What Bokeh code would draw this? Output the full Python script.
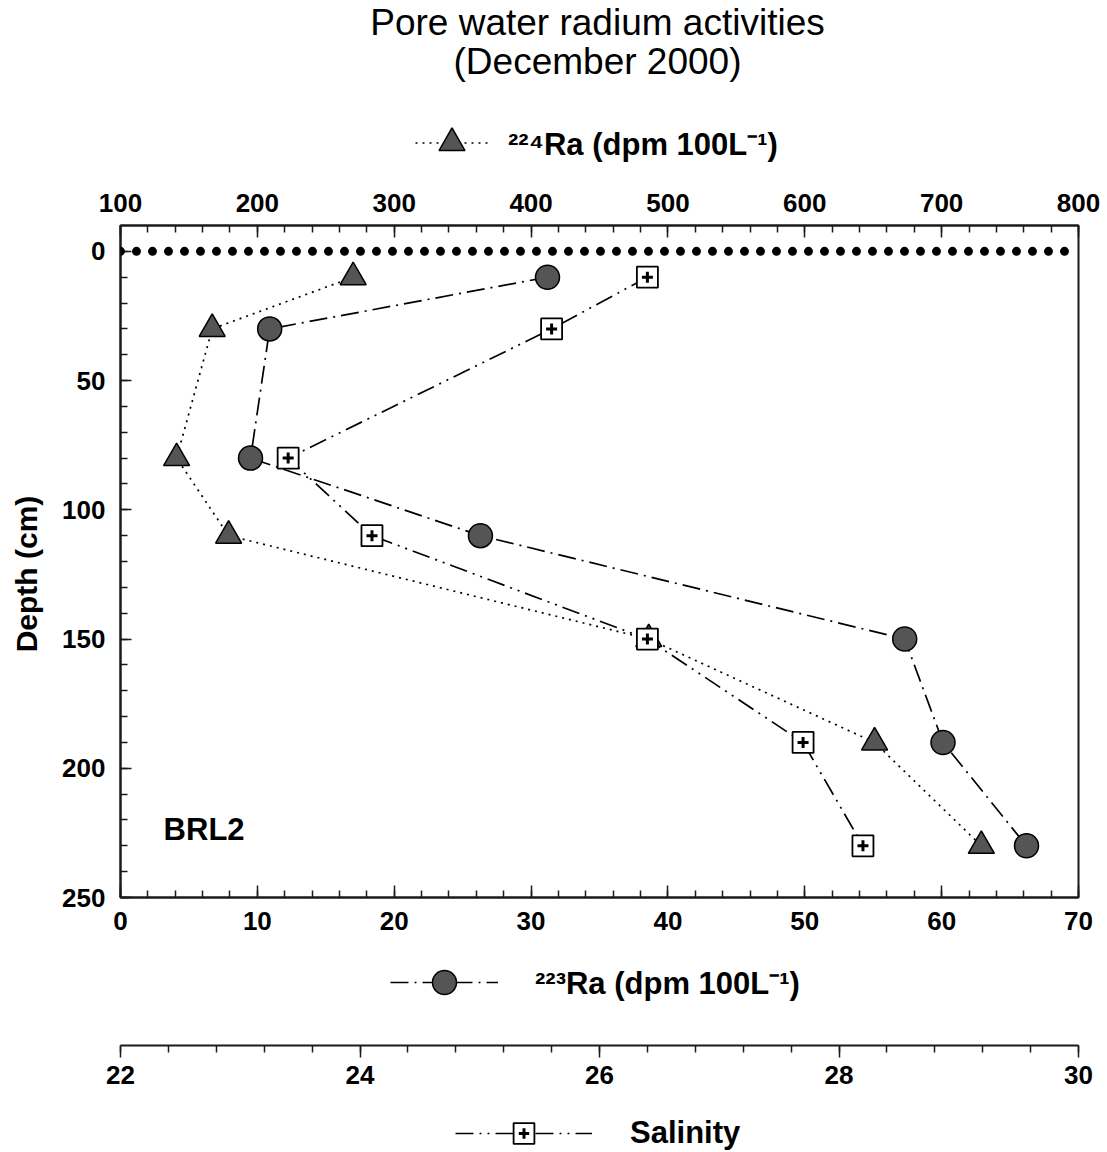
from bokeh.plotting import figure
from bokeh.layouts import column
from bokeh.models import (Range1d, LinearAxis, FixedTicker, Legend, LegendItem,
                          Span, Label, ColumnDataSource)
from bokeh.embed import file_html
from bokeh.resources import INLINE
import numpy as np

# Pore water profile, station BRL2, December 2000
depth_cm = [10, 30, 80, 110, 150, 190, 230]
ra224_dpm = [270, 167, 141, 179, 486, 651, 729]
ra223_dpm = [31.2, 10.9, 9.5, 26.3, 57.3, 60.1, 66.2]
salinity = [26.4, 25.6, 23.4, 24.1, 26.4, 27.7, 28.2]

depth_ticks = [0, 50, 100, 150, 200, 250]
ra223_ticks = [0, 10, 20, 30, 40, 50, 60, 70]
ra224_ticks = [100, 200, 300, 400, 500, 600, 700, 800]
sal_ticks = [22, 24, 26, 28, 30]

title_lines = ["Pore water radium activities", "(December 2000)"]
ra224_label = "\u00b2\u00b2\u2074Ra (dpm 100L\u207b\u00b9)"
ra223_label = "\u00b2\u00b2\u00b3Ra (dpm 100L\u207b\u00b9)"
sal_label = "Salinity"
depth_label = "Depth (cm)"
station = "BRL2"

FONT = "Liberation Sans"
INK = "#1a1a1a"
MARK = "#555555"
W = 1107
LEFT, RIGHT = 120, 29

src = ColumnDataSource(dict(depth=depth_cm, ra224=ra224_dpm, ra223=ra223_dpm, sal=salinity))

# series styles shared by the plot and the legend keys
STY224 = dict(line=dict(line_color="black", line_width=1.7, line_dash="2 5"),
              mark=dict(marker="triangle", size=26, fill_color=MARK, line_color="black", line_width=1.5))
STY223 = dict(line=dict(line_color="black", line_width=1.7, line_dash="18 6 2 6"),
              mark=dict(marker="circle", size=24, fill_color=MARK, line_color="black", line_width=1.5))
STYSAL = dict(line=dict(line_color="black", line_width=1.7, line_dash="18 6 2 6 2 6"),
              mark=dict(marker="square", size=21, fill_color="white", line_color="black", line_width=1.8),
              plus=dict(marker="cross", size=11, line_color="black", line_width=3))


def bare_fig(height, top=0, bottom=0, **kw):
    f = figure(width=W, height=height, output_backend="svg", toolbar_location=None,
               x_axis_type=None, y_axis_type=None, title_location=None,
               min_border_left=LEFT, min_border_right=RIGHT,
               min_border_top=top, min_border_bottom=bottom, **kw)
    f.outline_line_color = None
    f.background_fill_color = "white"
    f.border_fill_color = "white"
    return f


def style_axis(ax, tin, tout, standoff):
    ax.axis_line_color = INK
    ax.axis_line_width = 2
    ax.major_tick_line_color = INK
    ax.minor_tick_line_color = INK
    ax.major_tick_line_width = 1.5
    ax.minor_tick_line_width = 1.5
    ax.major_tick_in, ax.minor_tick_in = tin
    ax.major_tick_out, ax.minor_tick_out = tout
    ax.major_label_text_font = FONT
    ax.major_label_text_font_style = "bold"
    ax.major_label_text_font_size = "26px"
    ax.major_label_text_color = "black"
    ax.major_label_standoff = standoff


def key_legend(label, renderers, gw, gh, standoff, loc):
    return Legend(items=[LegendItem(label=label, renderers=renderers)],
                  location=loc, orientation="horizontal",
                  glyph_width=gw, glyph_height=gh, label_standoff=standoff,
                  padding=0, margin=0, spacing=0,
                  border_line_color=None, background_fill_alpha=0,
                  label_text_font=FONT, label_text_font_style="bold",
                  label_text_font_size="31px", label_text_color="black")


# ---------------- header: title and 224Ra key ----------------
top = bare_fig(180, x_range=Range1d(0, 958), y_range=Range1d(180, 0))
top.extra_x_ranges = {"ra224": Range1d(100, 800)}
top.extra_y_ranges = {"off": Range1d(1000, 2000)}
top.add_layout(Label(x=477, y=22, text=title_lines[0], text_font=FONT, text_font_size="37px",
                     text_align="center", text_baseline="middle", text_color="black"))
top.add_layout(Label(x=477, y=61, text=title_lines[1], text_font=FONT, text_font_size="37px",
                     text_align="center", text_baseline="middle", text_color="black"))
k224l = top.line("ra224", "depth", source=src, x_range_name="ra224", y_range_name="off", **STY224["line"])
k224m = top.scatter("ra224", "depth", source=src, x_range_name="ra224", y_range_name="off", **STY224["mark"])
top.add_layout(key_legend(ra224_label, [k224l, k224m], 73, 65, 20, (295, 5)))

# ---------------- main profile panel ----------------
p = bare_fig(765, top=45, bottom=48, x_range=Range1d(0, 70), y_range=Range1d(250, -10))
p.extra_x_ranges = {"ra224": Range1d(100, 800), "sal": Range1d(22, 30)}
p.outline_line_color = INK
p.outline_line_width = 2

ax_top = LinearAxis(x_range_name="ra224",
                    ticker=FixedTicker(ticks=ra224_ticks, minor_ticks=list(range(100, 801, 20))))
style_axis(ax_top, (12, 7), (0, 0), 14)
p.add_layout(ax_top, "above")

ax_bot = LinearAxis(ticker=FixedTicker(ticks=ra223_ticks, minor_ticks=list(range(0, 71, 2))))
style_axis(ax_bot, (12, 7), (0, 0), 14)
p.add_layout(ax_bot, "below")

# the label sits a little below the frame's middle: padded at its upper end
ax_left = LinearAxis(ticker=FixedTicker(ticks=depth_ticks, minor_ticks=list(range(0, 251, 10))),
                     axis_label=depth_label + "\u00a0\u00a0\u00a0")
style_axis(ax_left, (11, 7), (0, 0), 15)
ax_left.axis_label_text_font = FONT
ax_left.axis_label_text_font_style = "bold"
ax_left.axis_label_text_font_size = "30px"
ax_left.axis_label_text_color = "black"
ax_left.axis_label_standoff = 16
p.add_layout(ax_left, "left")

# sediment-water interface
p.add_layout(Span(location=0, dimension="width", line_color="black", line_width=9,
                  line_dash="0 16", line_cap="round"))

p.line("ra224", "depth", source=src, x_range_name="ra224", **STY224["line"])
p.line("ra223", "depth", source=src, **STY223["line"])
p.line("sal", "depth", source=src, x_range_name="sal", **STYSAL["line"])
p.scatter("ra224", "depth", source=src, x_range_name="ra224", **STY224["mark"])
p.scatter("ra223", "depth", source=src, **STY223["mark"])
p.scatter("sal", "depth", source=src, x_range_name="sal", **STYSAL["mark"])
p.scatter("sal", "depth", source=src, x_range_name="sal", **STYSAL["plus"])

p.add_layout(Label(x=3.15, y=223.5, text=station, text_font=FONT, text_font_style="bold",
                   text_font_size="31px", text_baseline="middle", text_align="left",
                   text_color="black"))

# ---------------- 223Ra key and salinity axis ----------------
mid = bare_fig(155, bottom=55, x_range=Range1d(22, 30), y_range=Range1d(0, 100))
mid.extra_x_ranges = {"ra223": Range1d(0, 70)}
mid.extra_y_ranges = {"off": Range1d(1000, 2000)}
ax_sal = LinearAxis(ticker=FixedTicker(ticks=sal_ticks,
                                       minor_ticks=[round(v, 1) for v in np.arange(22, 30.01, 0.4)]))
style_axis(ax_sal, (0, 0), (12, 7), 8)
mid.add_layout(ax_sal, "below")
k223l = mid.line("ra223", "depth", source=src, x_range_name="ra223", y_range_name="off", **STY223["line"])
k223m = mid.scatter("ra223", "depth", source=src, x_range_name="ra223", y_range_name="off", **STY223["mark"])
mid.add_layout(key_legend(ra223_label, [k223l, k223m], 108, 60, 37, (270, 33)))

# ---------------- salinity key ----------------
bot = bare_fig(52, x_range=Range1d(22, 30), y_range=Range1d(0, 52))
bot.extra_y_ranges = {"off": Range1d(1000, 2000)}
ksl = bot.line("sal", "depth", source=src, y_range_name="off", **STYSAL["line"])
ksm = bot.scatter("sal", "depth", source=src, y_range_name="off", **STYSAL["mark"])
ksp = bot.scatter("sal", "depth", source=src, y_range_name="off", **STYSAL["plus"])
bot.add_layout(key_legend(sal_label, [ksl, ksm], 137, 52, 38, (335, -7)))
bot.add_layout(key_legend("", [ksp], 137, 26, 38, (335, 6)))

page = column(top, p, mid, bot, spacing=0)
open("out.html", "w").write(file_html(page, INLINE))
